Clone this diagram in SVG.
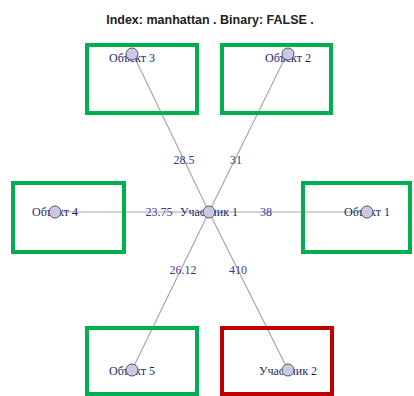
<svg xmlns="http://www.w3.org/2000/svg" width="414" height="396" viewBox="0 0 414 396">
<style>
.box{fill:none;stroke:#00b050;stroke-width:4}
.red{stroke:#c00000}
.edge{stroke:#a8a8a8;stroke-width:1.2}
.nd{fill:#c9c9e6;stroke:#555;stroke-width:1}
.lbl{font-family:"Liberation Serif",serif;font-size:12px;fill:#1f1f70;text-anchor:middle}
.el{font-family:"Liberation Serif",serif;font-size:12px;fill:#3a3a9a;text-anchor:middle}
.title{font-family:"Liberation Sans",Arial,sans-serif;font-size:12.5px;font-weight:bold;fill:#222;text-anchor:middle}
</style>
<rect width="414" height="396" fill="#fff"/>
<text class="title" x="210" y="24">Index: manhattan . Binary: FALSE .</text>
<g id="connectors">
<line class="edge" x1="209" y1="212" x2="132" y2="52"/>
<line class="edge" x1="209" y1="212" x2="288" y2="52"/>
<line class="edge" x1="209" y1="212" x2="55" y2="212"/>
<line class="edge" x1="209" y1="212" x2="367" y2="212"/>
<line class="edge" x1="209" y1="212" x2="132" y2="370"/>
<line class="edge" x1="209" y1="212" x2="288" y2="370"/>
<text class="el" x="184" y="164">28.5</text>
<text class="el" x="236" y="164">31</text>
<text class="el" x="159" y="216">23.75</text>
<text class="el" x="266" y="216">38</text>
<text class="el" x="183" y="274">26.12</text>
<text class="el" x="238" y="274">410</text>
</g>
<g id="obj3"><rect class="box" x="87" y="45" width="110" height="68"/><text class="lbl" x="132" y="62">Объект 3</text><circle class="nd" cx="132" cy="54" r="6"/></g>
<g id="obj2"><rect class="box" x="222" y="45" width="109" height="68"/><text class="lbl" x="288" y="62">Объект 2</text><circle class="nd" cx="288" cy="54" r="6"/></g>
<g id="obj4"><rect class="box" x="13" y="183" width="111" height="69"/><text class="lbl" x="55" y="216">Объект 4</text><circle class="nd" cx="55" cy="212" r="6"/></g>
<g id="obj1"><rect class="box" x="303" y="183" width="107" height="69"/><text class="lbl" x="367" y="216">Объект 1</text><circle class="nd" cx="367" cy="212" r="6"/></g>
<g id="u1"><text class="lbl" x="209" y="216">Участник 1</text><circle class="nd" cx="209" cy="212" r="6"/></g>
<g id="obj5"><rect class="box" x="87" y="328" width="110" height="66"/><text class="lbl" x="132" y="375">Объект 5</text><circle class="nd" cx="132" cy="370" r="6"/></g>
<g id="u2"><rect class="box red" x="222" y="328" width="110" height="66"/><text class="lbl" x="288" y="375">Участник 2</text><circle class="nd" cx="288" cy="370" r="6"/></g>
</svg>
